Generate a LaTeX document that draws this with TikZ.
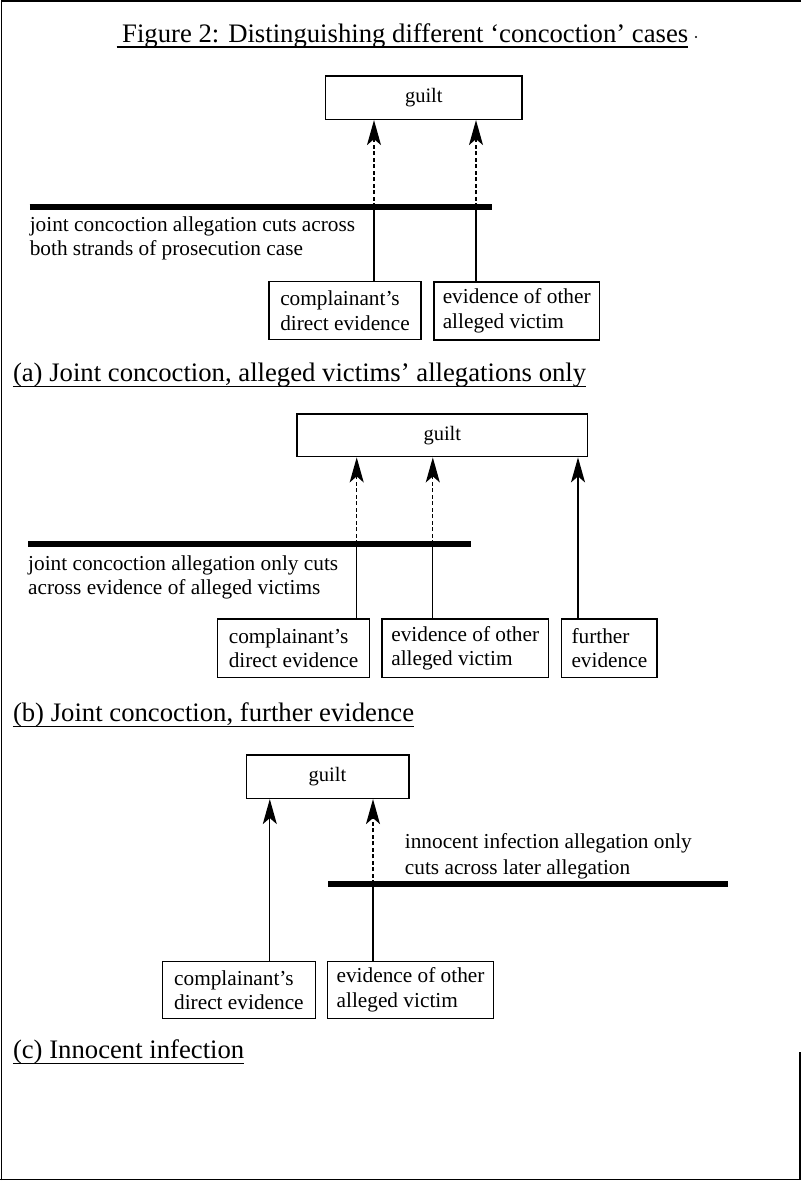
\documentclass[tikz,border=0pt]{standalone}
\usepackage{fontspec}
\setmainfont{Liberation Serif}
\usetikzlibrary{arrows.meta}

\tikzset{
  txt/.style={inner sep=0pt, anchor=base west, font=\fontsize{21.3}{24.5}\selectfont},
  headtxt/.style={inner sep=0pt, anchor=base west, font=\fontsize{26.7}{30}\selectfont},
  guiltbox/.style={draw, line width=1.5pt, inner sep=0pt, font=\fontsize{20.5}{24.5}\selectfont},
  evbox/.style={draw, line width=1.5pt, inner xsep=3pt, inner ysep=0pt, align=left,
    font=\fontsize{21.3}{24.5}\selectfont},
  link/.style={line width=1.3pt},
  supports/.style={link, -{Stealth[length=25pt, width=14pt, inset=6pt]}},
  weakened/.style={supports, dash pattern=on 4pt off 2.5pt},
  cutline/.style={line width=6pt},
  uline/.style={line width=1.3pt},
  frameline/.style={line width=1.6pt}
}

\begin{document}
\begin{tikzpicture}[x=1pt, y=-1pt]
\useasboundingbox (0,0) rectangle (801,1181);

% page frame
\draw[frameline] (1.5,1180) -- (1.5,1) -- (801,1);
\draw[frameline] (0,1179.5) -- (801,1179.5);
\draw[frameline] (800,1052) -- (800,1180);

% title
\node[headtxt] (title) at (122,42.7) {Figure 2: Distinguishing different `concoction' cases};
\draw[uline] ([shift={(-5.5pt,-4.3pt)}]title.base west) -- ([yshift=-4.3pt]title.base east);
\fill (696,37) circle (1.1pt);

% ---------------- (a) joint concoction, allegations only ----------------
\node[guiltbox, minimum width=196.5pt, minimum height=43.3pt] (gA) at (423.8,97.7) {guilt};
\node[evbox, minimum width=152pt, minimum height=57.6pt] (a1) at (345,310.5) {complainant's\\direct evidence};
\node[evbox, minimum width=165.4pt, minimum height=58pt] (a2) at (516.7,310.8) {evidence of other\\alleged victim};
\coordinate (cutA) at (29.6,207);
\coordinate (cutAend) at (491.6,207);
\coordinate (xA1) at (374,0);
\coordinate (xA2) at (476,0);
\draw[link] (a1.north -| xA1) -- (cutA -| xA1);
\draw[weakened] (cutA -| xA1) -- (gA.south -| xA1);
\draw[link] (a2.north -| xA2) -- (cutA -| xA2);
\draw[weakened] (cutA -| xA2) -- (gA.south -| xA2);
\draw[cutline] (cutA) -- (cutAend);
\node[txt] (la1) at (29.6,231) {joint concoction allegation cuts across};
\node[txt] (la2) at (29.6,255.7) {both strands of prosecution case};
\node[headtxt] (capA) at (12.8,381.7) {(a) Joint concoction, alleged victims' allegations only};
\draw[uline] ([yshift=-5pt]capA.base west) -- ([yshift=-5pt]capA.base east);

% ---------------- (b) joint concoction, further evidence ----------------
\node[guiltbox, minimum width=290.6pt, minimum height=42.7pt] (gB) at (442.3,435.3) {guilt};
\node[evbox, minimum width=151.7pt, minimum height=58.3pt] (b1) at (293.55,648.2) {complainant's\\direct evidence};
\node[evbox, minimum width=166.1pt, minimum height=58.3pt] (b2) at (465.25,648.2) {evidence of other\\alleged victim};
\node[evbox, minimum width=95.5pt, minimum height=58.3pt] (b3) at (609.35,648.2) {further\\evidence};
\coordinate (cutB) at (28,544);
\coordinate (cutBend) at (470.6,544);
\coordinate (xB1) at (356.7,0);
\coordinate (xB2) at (432.8,0);
\coordinate (xB3) at (578,0);
\draw[link] (b1.north -| xB1) -- (cutB -| xB1);
\draw[weakened] (cutB -| xB1) -- (gB.south -| xB1);
\draw[link] (b2.north -| xB2) -- (cutB -| xB2);
\draw[weakened] (cutB -| xB2) -- (gB.south -| xB2);
\draw[supports] (b3.north -| xB3) -- (gB.south -| xB3);
\draw[cutline] (cutB) -- (cutBend);
\node[txt] (lb1) at (28,570) {joint concoction allegation only cuts};
\node[txt] (lb2) at (28,594.3) {across evidence of alleged victims};
\node[headtxt] (capB) at (12.8,721.7) {(b) Joint concoction, further evidence};
\draw[uline] ([yshift=-5pt]capB.base west) -- ([yshift=-5pt]capB.base east);

% ---------------- (c) innocent infection ----------------
\node[guiltbox, minimum width=162.5pt, minimum height=43.3pt] (gC) at (327.5,776.7) {guilt};
\node[evbox, minimum width=152.8pt, minimum height=56.6pt] (c1) at (238.9,990) {complainant's\\direct evidence};
\node[evbox, minimum width=166.1pt, minimum height=56.6pt] (c2) at (410.55,990) {evidence of other\\alleged victim};
\coordinate (cutC) at (328,884.3);
\coordinate (cutCend) at (727.6,884.3);
\coordinate (xC1) at (269.8,0);
\coordinate (xC2) at (373,0);
\draw[supports] (c1.north -| xC1) -- (gC.south -| xC1);
\draw[link] (c2.north -| xC2) -- (cutC -| xC2);
\draw[weakened] (cutC -| xC2) -- (gC.south -| xC2);
\draw[cutline] (cutC) -- (cutCend);
\node[txt] (lc1) at (404.7,848.3) {innocent infection allegation only};
\node[txt] (lc2) at (404.7,874) {cuts across later allegation};
\node[headtxt] (capC) at (12.8,1058.3) {(c) Innocent infection};
\draw[uline] ([yshift=-5pt]capC.base west) -- ([yshift=-5pt]capC.base east);
\end{tikzpicture}
\end{document}
